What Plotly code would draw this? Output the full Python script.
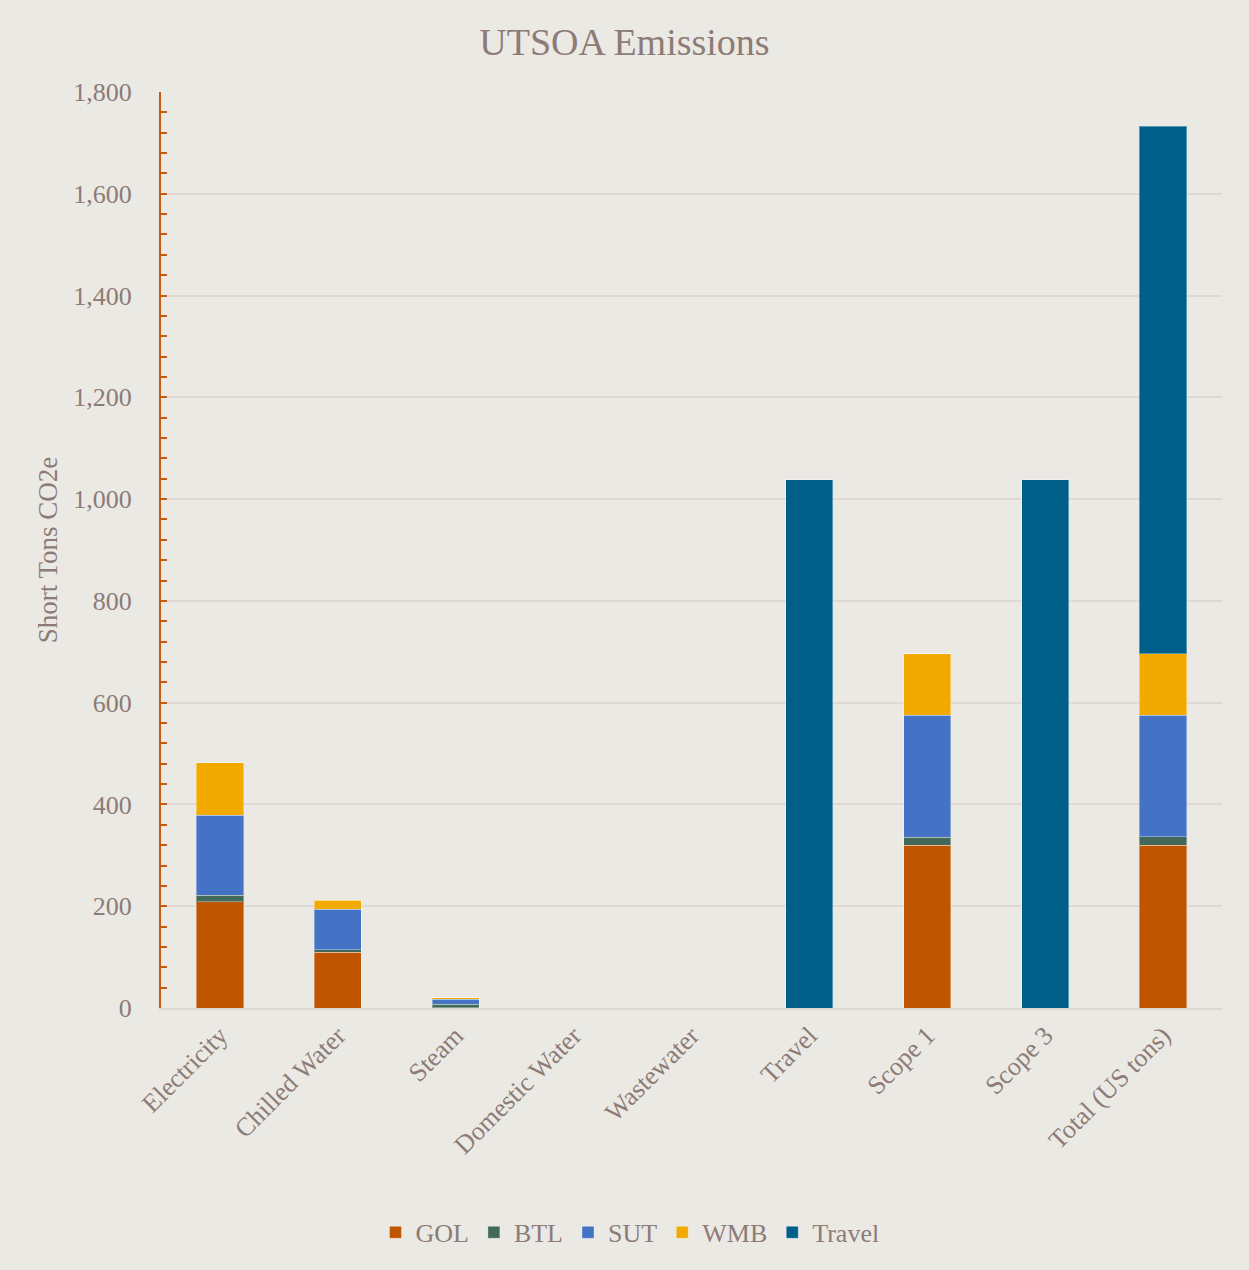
import plotly.graph_objects as go

categories = ["Electricity", "Chilled Water", "Steam", "Domestic Water", "Wastewater",
              "Travel", "Scope 1", "Scope 3", "Total (US tons)"]
gol = [209, 110, 0.5, 0, 0, 0, 320, 0, 320]
btl = [13, 4, 7, 0, 0, 0, 16, 0, 17]
sut = [157, 80, 10, 0, 0, 0, 239, 0, 238]
wmb = [103, 18, 3, 0, 0, 0, 121, 0, 121]
travel = [0, 0, 0, 0, 0, 1038, 0, 1038, 1037]

series = [("GOL", gol, "#C05500"), ("BTL", btl, "#43695A"), ("SUT", sut, "#4472C4"),
          ("WMB", wmb, "#F2AA00"), ("Travel", travel, "#005F88")]

FONT = "Liberation Serif, DejaVu Serif, serif"
TXT = "#8C7B76"

fig = go.Figure()
for name, vals, col in series:
    fig.add_trace(go.Bar(x=categories, y=vals, name=name, marker_color=col,
                         marker_line=dict(color="rgba(255,255,255,0.35)", width=1)))

fig.update_layout(
    barmode="stack", bargap=0.6,
    width=1249, height=1270,
    paper_bgcolor="#EBE9E4", plot_bgcolor="#EBE9E4",
    margin=dict(l=161, r=27, t=92, b=262),
    font=dict(family=FONT, color=TXT, size=24),
    title=dict(text="UTSOA Emissions", x=0.5, xanchor="center", y=0.967, yanchor="middle",
               font=dict(size=38, color=TXT, family=FONT)),
    legend=dict(orientation="h", x=0.442, xanchor="center",
                y=-0.245, yanchor="middle",
                font=dict(size=26, color=TXT), traceorder="normal", itemwidth=30),
    showlegend=True,
)
fig.update_yaxes(range=[0, 1800], dtick=200, tickformat=",", showgrid=True,
                 gridcolor="#E0D8D5", gridwidth=1.5, zeroline=False,
                 showline=True, linecolor="#C55A11", linewidth=2,
                 ticks="inside", ticklen=6, tickcolor="#C55A11", tickwidth=2,
                 minor=dict(dtick=40, ticks="inside", ticklen=6, tickcolor="#C55A11", tickwidth=2, showgrid=False),
                 ticklabelstandoff=22,
                 tickfont=dict(size=26, color=TXT),
                 title=dict(text="Short Tons CO2e", font=dict(size=27, color=TXT), standoff=8))
fig.update_xaxes(tickangle=-45, showline=True, linecolor="#E0D8D5", linewidth=2,
                 tickfont=dict(size=26, color=TXT), ticks="")

fig.write_html("out.html")
